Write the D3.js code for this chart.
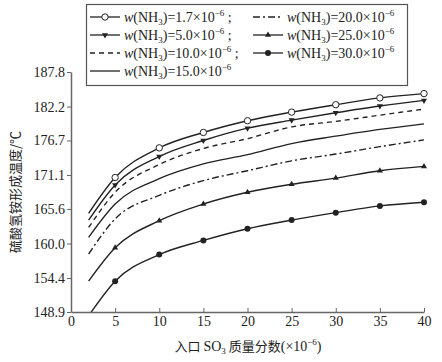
<!DOCTYPE html>
<html>
<head>
<meta charset="utf-8">
<script src="https://cdn.jsdelivr.net/npm/d3@7"></script>
<style>
  body { margin: 0; background: #fff; }
  svg { font-family: "Liberation Serif", "Noto Sans CJK SC", serif; }
</style>
</head>
<body>
<div id="chart"></div>
<script>
// data
const so3 = [2, 5, 10, 15, 20, 25, 30, 35, 40]
const nh3 = ["1.7", "5.0", "10.0", "15.0", "20.0", "25.0", "30.0"]
const t17 = [164.9, 170.7, 175.5, 178.0, 179.9, 181.3, 182.5, 183.6, 184.3]
const t50 = [163.8, 169.5, 174.1, 176.7, 178.7, 180.0, 181.2, 182.3, 183.2]
const t100 = [162.6, 168.3, 172.8, 175.4, 177.0, 178.9, 179.8, 180.8, 181.8]
const t150 = [161.0, 166.4, 170.5, 172.9, 174.4, 176.2, 177.4, 178.5, 179.4]
const t200 = [158.3, 164.0, 167.8, 170.2, 171.8, 173.4, 174.5, 175.7, 176.8]
const t250 = [153.9, 159.3, 163.7, 166.4, 168.3, 169.6, 170.6, 171.8, 172.5]
const t300 = [148.3, 153.9, 158.2, 160.5, 162.4, 163.8, 165.0, 166.1, 166.7]
const yTicks = [148.9, 154.4, 160.0, 165.6, 171.1, 176.7, 182.2, 187.8]
const xTicks = [0, 5, 10, 15, 20, 25, 30, 35, 40]

const width = 442, height = 362
const margin = { top: 72, right: 18, bottom: 50, left: 71 }

const series = [
    { v: t17, marker: "circleOpen", dash: null },
    { v: t50, marker: "triDown", dash: null },
    { v: t100, marker: null, dash: "5,4" },
    { v: t150, marker: null, dash: null },
    { v: t200, marker: null, dash: "7,3,2,3" },
    { v: t250, marker: "triUp", dash: null },
    { v: t300, marker: "dot", dash: null }
]

const x = d3.scaleLinear().domain([0, 40]).range([margin.left, width - margin.right])
const y = d3.scaleLinear().domain([148.9, 187.8]).range([height - margin.bottom, margin.top])

const svg = d3.select("#chart").append("svg")
    .attr("width", width)
    .attr("height", height)

svg.append("clipPath").attr("id", "clip")
    .append("rect")
    .attr("x", margin.left).attr("y", margin.top - 10)
    .attr("width", width - margin.left).attr("height", height - margin.top - margin.bottom + 10)

const ink = "#222"

function drawMarker(g, type, cx, cy) {
    if (type === "circleOpen") {
        g.append("circle").attr("cx", cx).attr("cy", cy).attr("r", 3.2)
            .attr("fill", "#fff").attr("stroke", ink).attr("stroke-width", 1)
    } else if (type === "dot") {
        g.append("circle").attr("cx", cx).attr("cy", cy).attr("r", 3).attr("fill", ink)
    } else if (type === "triDown") {
        g.append("path").attr("d", d3.symbol(d3.symbolTriangle, 16)())
            .attr("transform", `translate(${cx},${cy}) rotate(180)`).attr("fill", ink)
    } else if (type === "triUp") {
        g.append("path").attr("d", d3.symbol(d3.symbolTriangle, 16)())
            .attr("transform", `translate(${cx},${cy})`).attr("fill", ink)
    }
}

const line = d3.line()
    .x((d, i) => x(so3[i]))
    .y(d => y(d))
    .curve(d3.curveMonotoneX)

const plot = svg.append("g").attr("clip-path", "url(#clip)")

series.forEach(s => {
    plot.append("path")
        .attr("d", line(s.v))
        .attr("fill", "none")
        .attr("stroke", ink)
        .attr("stroke-width", 1.4)
        .attr("stroke-dasharray", s.dash)
    if (s.marker) {
        s.v.forEach((d, i) => {
            if (i > 0) drawMarker(plot, s.marker, x(so3[i]), y(d))
        })
    }
})

// axes
const xAxis = svg.append("g")
    .attr("transform", `translate(0,${height - margin.bottom})`)
    .call(d3.axisBottom(x).tickValues(xTicks).tickSizeInner(-4).tickSizeOuter(0).tickPadding(6))
const yAxis = svg.append("g")
    .attr("transform", `translate(${margin.left},0)`)
    .call(d3.axisLeft(y).tickValues(yTicks).tickFormat(d3.format(".1f")).tickSizeInner(4).tickSizeOuter(0).tickPadding(2))

;[xAxis, yAxis].forEach(a => {
    a.select(".domain").attr("stroke", "#666").attr("stroke-width", 1.5)
    a.selectAll(".tick line").attr("stroke", "#666")
    a.selectAll("text").attr("font-family", "Liberation Serif").attr("font-size", 14).attr("fill", "#222")
})
xAxis.selectAll("text").attr("dy", "0.6em")

// axis titles
const xt = svg.append("text")
    .attr("x", 248).attr("y", 351)
    .attr("text-anchor", "middle")
    .attr("font-size", 14).attr("fill", "#222")
xt.append("tspan").attr("font-family", "Noto Sans CJK SC").attr("font-size", 13).text("入口 ")
xt.append("tspan").text("SO")
xt.append("tspan").attr("font-size", 9).attr("dy", 3).text("3")
xt.append("tspan").attr("dy", -3).attr("font-family", "Noto Sans CJK SC").attr("font-size", 13).text(" 质量分数")
xt.append("tspan").text("(×10")
xt.append("tspan").attr("font-size", 9).attr("dy", -6).text("−6")
xt.append("tspan").attr("dy", 6).text(")")

svg.append("text")
    .attr("transform", `translate(20,${192}) rotate(-90)`)
    .attr("text-anchor", "middle")
    .attr("font-family", "Noto Sans CJK SC")
    .attr("font-size", 13).attr("fill", "#222")
    .text("硫酸氢铵形成温度/℃")

// legend
const legend = svg.append("g")
legend.append("rect")
    .attr("x", 86.5).attr("y", 4.5).attr("width", 321).attr("height", 81)
    .attr("fill", "#fff").attr("stroke", "#555").attr("stroke-width", 1.2)

const legendPos = [
    [90, 17], [90, 35], [90, 53], [90, 71],
    [253, 17], [253, 35], [253, 53]
]

series.forEach((s, i) => {
    const [lx, ly] = legendPos[i]
    const g = legend.append("g")
    g.append("line")
        .attr("x1", lx).attr("x2", lx + 30).attr("y1", ly).attr("y2", ly)
        .attr("stroke", ink).attr("stroke-width", 1.3)
        .attr("stroke-dasharray", s.dash)
    if (s.marker) drawMarker(g, s.marker, lx + 15, ly)
    const t = g.append("text")
        .attr("x", lx + 34).attr("y", ly + 5)
        .attr("font-size", 14).attr("fill", "#222")
    t.append("tspan").attr("font-style", "italic").text("w")
    t.append("tspan").text("(NH")
    t.append("tspan").attr("font-size", 9).attr("dy", 3).text("3")
    t.append("tspan").attr("dy", -3).text(`)=${nh3[i]}×10`)
    t.append("tspan").attr("font-size", 9).attr("dy", -6).text("−6")
    if (i < 3) t.append("tspan").attr("dy", 6).text(" ;")
})
</script>
</body>
</html>
